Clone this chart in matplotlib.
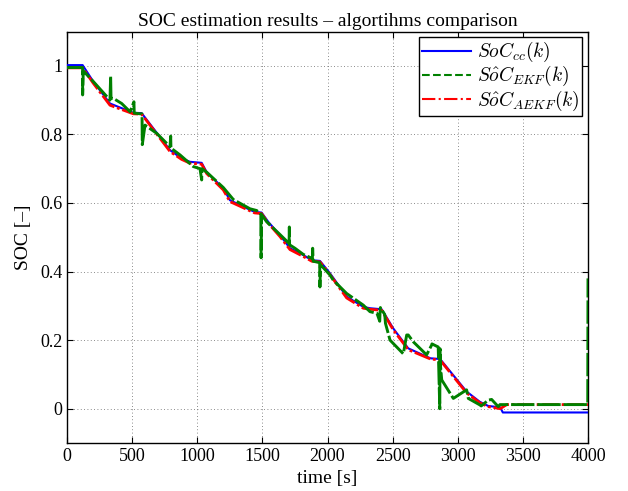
import matplotlib
matplotlib.use("Agg")
import matplotlib.pyplot as plt
from matplotlib.lines import Line2D

plt.rcParams.update({
    "font.family": "serif",
    "font.serif": ["Liberation Serif", "DejaVu Serif"],
    "mathtext.fontset": "cm",
    "font.size": 13,
    "xtick.direction": "in",
    "ytick.direction": "in",
    "xtick.top": True,
    "ytick.right": True,
    "xtick.major.size": 4,
    "ytick.major.size": 4,
})

# ---------------------------------------------------------------------------
# Data
# ---------------------------------------------------------------------------
t_cc = [0, 120, 200, 330, 509, 573, 791, 880, 944, 1034, 1072, 1200, 1251,
        1405, 1440, 1494, 1545, 1635, 1712, 1814, 1880, 1942, 2019, 2147,
        2275, 2326, 2416, 2505, 2620, 2790, 2864, 3068, 3170, 3234, 3326,
        3346, 4000]
soc_cc = [1.002, 1.002, 0.955, 0.890, 0.863, 0.862, 0.754, 0.730, 0.720,
          0.717, 0.690, 0.643, 0.608, 0.580, 0.574, 0.572, 0.545, 0.506,
          0.468, 0.448, 0.433, 0.431, 0.395, 0.327, 0.297, 0.293, 0.290,
          0.234, 0.176, 0.147, 0.145, 0.050, 0.020, 0.008, 0.004, -0.011,
          -0.011]

t_aekf = [0, 120, 200, 330, 509, 573, 791, 880, 944, 1034, 1072, 1200, 1251,
          1405, 1440, 1494, 1545, 1635, 1712, 1814, 1880, 1942, 2019, 2147,
          2275, 2326, 2416, 2505, 2620, 2790, 2864, 3068, 3170, 3234, 3326,
          3376, 4000]
soc_aekf = [0.994, 0.994, 0.950, 0.885, 0.860, 0.859, 0.750, 0.727, 0.716,
            0.713, 0.686, 0.638, 0.604, 0.577, 0.571, 0.569, 0.541, 0.502,
            0.464, 0.444, 0.430, 0.428, 0.391, 0.323, 0.293, 0.290, 0.287,
            0.230, 0.172, 0.145, 0.142, 0.046, 0.017, 0.006, 0.000, 0.012,
            0.012]

t_ekf = [0, 120, 120, 125, 200, 330, 335, 338, 356, 420, 484, 514, 516, 560,
         576, 578, 599, 689, 791, 796, 798, 868, 970, 1021, 1034, 1036, 1072,
         1123, 1200, 1277, 1405, 1456, 1488, 1490, 1494, 1533, 1635, 1705,
         1707, 1709, 1750, 1814, 1884, 1886, 1890, 1940, 1942, 1946, 2019,
         2044, 2147, 2275, 2326, 2380, 2401, 2403, 2406, 2439, 2441, 2445,
         2480, 2582, 2608, 2620, 2659, 2710, 2761, 2800, 2802, 2850, 2862,
         2864, 2867, 2877, 2966, 3068, 3081, 3170, 3180, 3234, 3260, 3311,
         3324, 3376, 3998, 4000]
soc_ekf = [0.995, 0.995, 0.915, 0.985, 0.955, 0.900, 0.970, 0.905, 0.905,
           0.890, 0.866, 0.895, 0.862, 0.860, 0.860, 0.770, 0.827, 0.803,
           0.764, 0.795, 0.760, 0.740, 0.706, 0.700, 0.667, 0.700, 0.690,
           0.672, 0.645, 0.610, 0.583, 0.578, 0.568, 0.440, 0.566, 0.545,
           0.508, 0.482, 0.530, 0.478, 0.468, 0.450, 0.438, 0.468, 0.430,
           0.426, 0.355, 0.420, 0.390, 0.375, 0.336, 0.302, 0.283, 0.278,
           0.255, 0.278, 0.295, 0.275, 0.268, 0.249, 0.200, 0.160, 0.215,
           0.215, 0.195, 0.176, 0.157, 0.186, 0.189, 0.180, 0.000, 0.175,
           0.127, 0.084, 0.030, 0.055, 0.030, 0.011, 0.008, 0.025, 0.027,
           0.006, 0.012, 0.012, 0.012, 0.380]

# ---------------------------------------------------------------------------
# Figure
# ---------------------------------------------------------------------------
fig = plt.figure(figsize=(6.28, 4.91), dpi=100)
ax = fig.add_axes([67 / 628, 1 - 443 / 491, 521 / 628, 411.5 / 491])

ax.plot(t_cc, soc_cc, color="blue", lw=1.5, zorder=3)
ax.plot(t_aekf, soc_aekf, color="red", lw=2.0, ls=(0, (6, 1, 1, 1)), zorder=4)
ax.plot(t_ekf, soc_ekf, color="#008000", lw=2.1, ls=(0, (8, 1)), zorder=5)

ax.set_xlim(0, 4000)
ax.set_ylim(-0.1, 1.1)
ax.set_xticks(range(0, 4001, 500))
ax.set_yticks([0, 0.2, 0.4, 0.6, 0.8, 1])
ax.set_yticklabels(["0", "0.2", "0.4", "0.6", "0.8", "1"])
ax.grid(True, ls=(0, (1, 3)), color="0.4", lw=0.6)
for sp in ax.spines.values():
    sp.set_linewidth(1.0)

ax.set_title("SOC estimation results \u2013 algortihms comparison", fontsize=14, pad=4)
ax.set_xlabel("time [s]", fontsize=14, labelpad=4)
ax.set_ylabel("SOC [\u2013]", fontsize=14, labelpad=6)

handles = [
    Line2D([], [], color="blue", lw=1.5),
    Line2D([], [], color="#008000", lw=1.5, ls="--"),
    Line2D([], [], color="red", lw=1.5, ls="-."),
]
labels = [r"$SoC_{cc}(k)$", r"$S\hat{o}C_{EKF}(k)$", r"$S\hat{o}C_{AEKF}(k)$"]
leg = ax.legend(handles, labels, loc="upper right", fontsize=14, fancybox=False,
                framealpha=1, edgecolor="black", borderaxespad=0.3,
                handlelength=2.5, handletextpad=0.3, labelspacing=0.0,
                borderpad=0.15)
leg.get_frame().set_linewidth(1.0)

fig.savefig("out.png", dpi=100)
